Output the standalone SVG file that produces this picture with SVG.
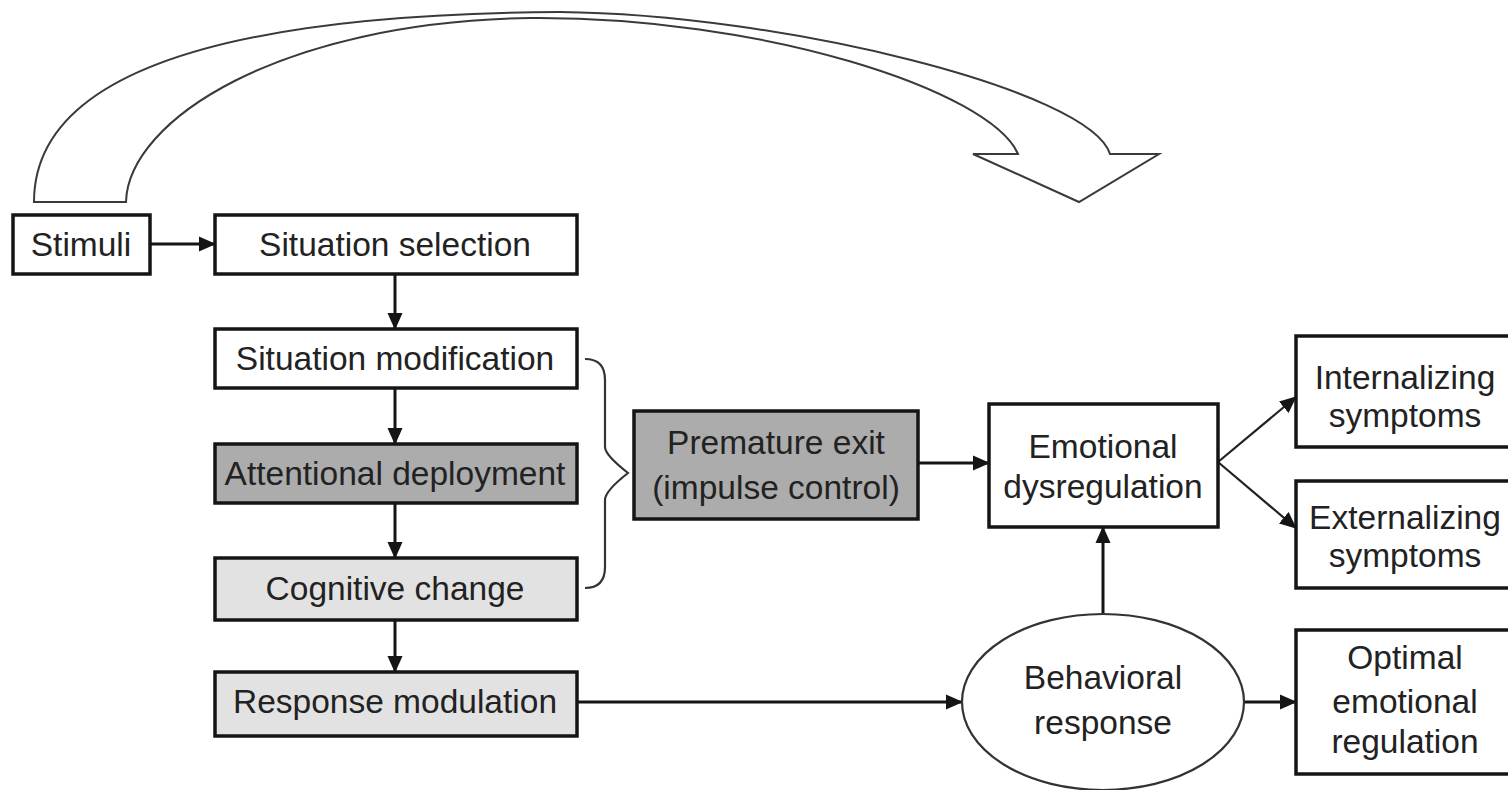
<svg xmlns="http://www.w3.org/2000/svg" width="1508" height="790" viewBox="0 0 1508 790">
<style>
.box{stroke:#151515;stroke-width:3.5;fill:#fff}
.dark{fill:#acacac}
.light{fill:#e2e2e2}
.t{font-family:"Liberation Sans",Arial,sans-serif;font-size:33.5px;fill:#222;text-anchor:middle}
.c{stroke:#151515;stroke-width:3;fill:none}
.thin{stroke:#222;stroke-width:2.2;fill:none}
</style>
<defs>
<marker id="ah" markerUnits="userSpaceOnUse" markerWidth="17" markerHeight="17" viewBox="0 0 17 17" refX="16" refY="8.5" orient="auto">
<path d="M0,1 L17,8.5 L0,16 Z" fill="#151515"/>
</marker>
</defs>
<g id="bigarrow">
<path d="M126,202 C128,120 280,22 530,18 C760,16 990,90 1018,154 L973,154 L1079,202 L1159,154 L1110,154 C1090,90 780,14 560,12 C230,14 34,70 34,202 Z" fill="#fff" stroke="#3a3a3a" stroke-width="2"/>
</g>
<g id="connectors">
<line class="c" x1="150" y1="244" x2="215" y2="244" marker-end="url(#ah)"/>
<line class="c" x1="395" y1="274" x2="395" y2="329" marker-end="url(#ah)"/>
<line class="c" x1="395" y1="388" x2="395" y2="444" marker-end="url(#ah)"/>
<line class="c" x1="395" y1="503" x2="395" y2="558" marker-end="url(#ah)"/>
<line class="c" x1="395" y1="620" x2="395" y2="672" marker-end="url(#ah)"/>
<line class="c" x1="577" y1="702" x2="962" y2="702" marker-end="url(#ah)"/>
<line class="c" x1="918" y1="463" x2="989" y2="463" marker-end="url(#ah)"/>
<line class="c" x1="1103" y1="614" x2="1103" y2="527" marker-end="url(#ah)"/>
<line class="c" x1="1244" y1="702" x2="1296" y2="702" marker-end="url(#ah)"/>
<line class="thin" x1="1218" y1="462" x2="1296" y2="397" marker-end="url(#ah)"/>
<line class="thin" x1="1218" y1="462" x2="1296" y2="528" marker-end="url(#ah)"/>
<path d="M585,359 Q605,359 605,380 L605,447 Q605,455 628,473 Q605,491 605,500 L605,567 Q605,588 585,588" fill="none" stroke="#333" stroke-width="2.2"/>
</g>
<g id="stimuli"><rect class="box" x="13" y="215" width="137" height="59"/><text class="t" x="81" y="256">Stimuli</text></g>
<g id="situation-selection"><rect class="box" x="215" y="215" width="362" height="59"/><text class="t" x="395" y="256">Situation selection</text></g>
<g id="situation-modification"><rect class="box" x="215" y="329" width="362" height="59"/><text class="t" x="395" y="370">Situation modification</text></g>
<g id="attentional-deployment"><rect class="box dark" x="215" y="444" width="362" height="59"/><text class="t" x="395" y="485">Attentional deployment</text></g>
<g id="cognitive-change"><rect class="box light" x="215" y="558" width="362" height="62"/><text class="t" x="395" y="600">Cognitive change</text></g>
<g id="response-modulation"><rect class="box light" x="215" y="672" width="362" height="64"/><text class="t" x="395" y="713">Response modulation</text></g>
<g id="premature-exit"><rect class="box dark" x="634" y="411" width="284" height="108"/><text class="t" x="776" y="454">Premature exit</text><text class="t" x="776" y="499">(impulse control)</text></g>
<g id="emotional-dysregulation"><rect class="box" x="989" y="404" width="229" height="123"/><text class="t" x="1103" y="458">Emotional</text><text class="t" x="1103" y="498">dysregulation</text></g>
<g id="internalizing"><rect class="box" x="1296" y="336" width="240" height="111"/><text class="t" x="1405" y="389">Internalizing</text><text class="t" x="1405" y="427">symptoms</text></g>
<g id="externalizing"><rect class="box" x="1296" y="481" width="240" height="107"/><text class="t" x="1405" y="529">Externalizing</text><text class="t" x="1405" y="567">symptoms</text></g>
<g id="optimal"><rect class="box" x="1296" y="630" width="240" height="144"/><text class="t" x="1405" y="669">Optimal</text><text class="t" x="1405" y="713">emotional</text><text class="t" x="1405" y="753">regulation</text></g>
<g id="behavioral-response"><ellipse cx="1103" cy="702" rx="141" ry="88" fill="#fff" stroke="#333" stroke-width="2.2"/><text class="t" x="1103" y="689">Behavioral</text><text class="t" x="1103" y="734">response</text></g>
</svg>
